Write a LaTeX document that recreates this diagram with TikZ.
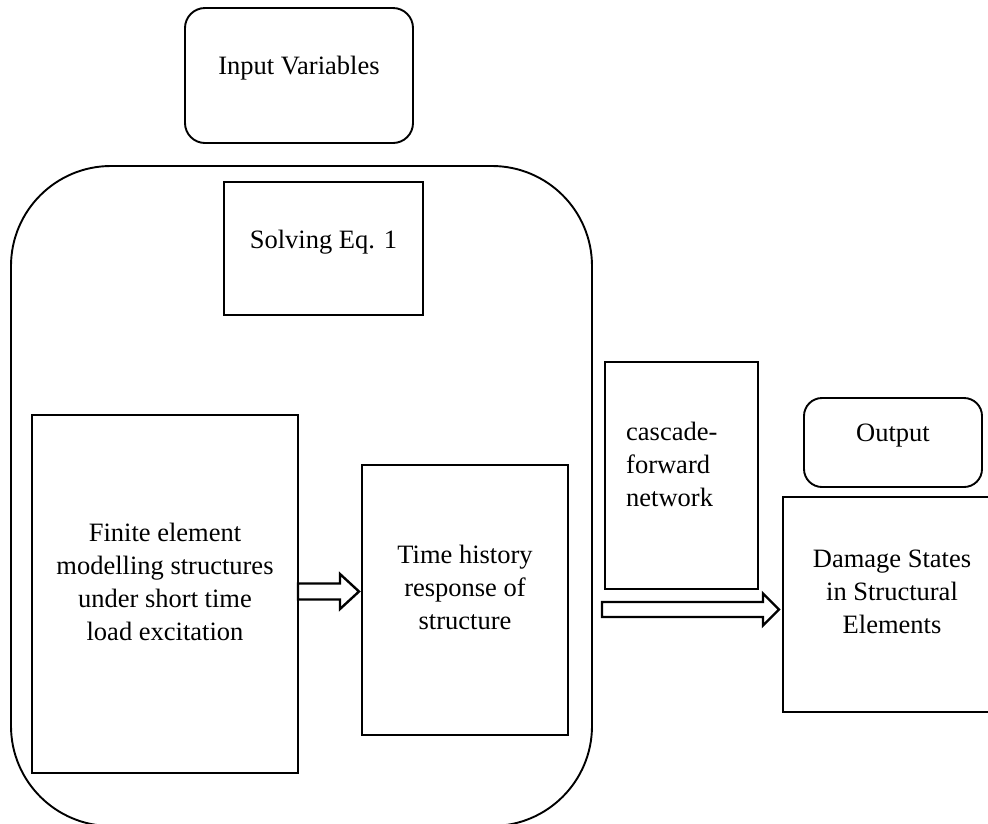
\documentclass[tikz,border=0pt]{standalone}
\usepackage{fontspec}
\setmainfont{Liberation Serif}
\usetikzlibrary{calc}

% Block arrow drawn from a start point #1 to a tip #2:
% #3 = half shaft width, #4 = half head width, #5 = head length
\newcommand\drawblockarrow[5]{%
  \draw[blk] ($(#1)+(0,-#3)$) -- ($(#2)+(-#5,-#3)$) -- ($(#2)+(-#5,-#4)$)
    -- (#2) -- ($(#2)+(-#5,#4)$) -- ($(#2)+(-#5,#3)$) -- ($(#1)+(0,#3)$) -- cycle;}

\tikzset{
  box/.style={draw, line width=1.9pt, inner sep=0pt, outer sep=0pt},
  rbox/.style={box, rounded corners=#1},
  txt/.style={font=\fontsize{26.5}{33}\selectfont, inner sep=0pt, align=center},
  blk/.style={draw, line width=2.4pt, fill=white, line join=miter}
}

\begin{document}
\begin{tikzpicture}[x=1pt, y=-1pt]
  \useasboundingbox (0,0) rectangle (988,823);
  \clip (0,0) rectangle (988,823);

  % input and the simulation container
  \node[rbox=20, minimum width=228, minimum height=135] (inp) at (299,75.5) {};
  \node[rbox=100, minimum width=581, minimum height=660] (sim) at (301.5,496) {};

  % boxes inside the container
  \node[box, minimum width=199, minimum height=133] (solve) at (323.5,248.5) {};
  \node[box, minimum width=266, minimum height=358] (fem) at (165,594) {};
  \node[box, minimum width=206, minimum height=270] (thr) at (465,600) {};

  % network and output side
  \node[box, minimum width=153, minimum height=227] (cfn) at (681.5,475.5) {};
  \node[rbox=18, minimum width=178, minimum height=89] (out) at (893,442.5) {};
  \node[box, minimum width=218, minimum height=215] (dmg) at (892,604.5) {};

  % labels
  \node[txt, anchor=base] (tinp) at (299,74) {Input Variables};
  \node[txt, anchor=base] (tsolve) at (323.5,248) {Solving Eq. 1};
  \node[txt] (tfem) at (165,581.5) {Finite element\\modelling structures\\under short time\\load excitation};
  \node[txt] (tthr) at (465,587.5) {Time history\\response of\\structure};
  \node[txt, align=left, anchor=west] (tcfn) at (626,464.5) {cascade-\\forward\\network};
  \node[txt, anchor=base] (tout) at (893,441) {Output};
  \node[txt] (tdmg) at (892,592) {Damage States\\in Structural\\Elements};

  % connectors
  \coordinate (a1s) at ($(fem.east)+(0,-2.5)$);
  \coordinate (a1e) at ($(thr.west)+(-3,-8.5)$);
  \drawblockarrow{a1s}{a1e}{8}{17.5}{19}

  \coordinate (a2s) at (602,609.5);
  \coordinate (a2e) at ($(dmg.west)+(-4,5)$);
  \drawblockarrow{a2s}{a2e}{7.5}{16}{16}
\end{tikzpicture}
\end{document}
